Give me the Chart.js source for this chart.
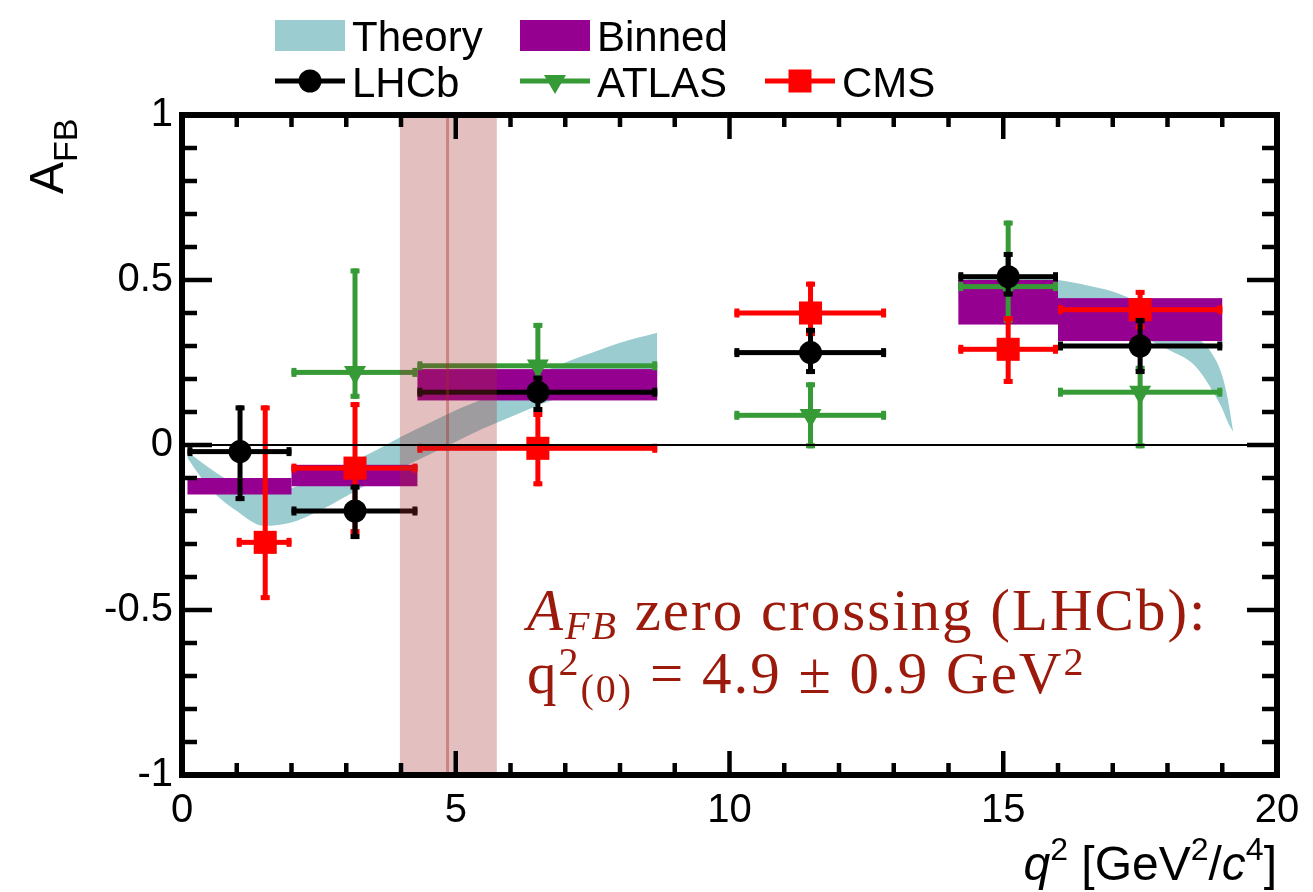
<!DOCTYPE html>
<html>
<head>
<meta charset="utf-8">
<script src="https://cdn.jsdelivr.net/npm/chart.js@4.4.1/dist/chart.umd.min.js"></script>
<style>
  html, body { margin: 0; padding: 0; background: #fff; }
</style>
</head>
<body>
<canvas id="afb" width="1313" height="892"></canvas>
<script>
// SM theory band, low q2 region
const theoryLowX  = [0.1, 0.5, 1.0, 1.5, 2.0, 2.5, 3.0, 3.5, 4.0, 4.5, 5.0, 5.5, 6.0, 6.5, 7.0, 7.5, 8.0, 8.68];
const theoryLowUp = [-0.02, -0.07, -0.12, -0.14, -0.13, -0.10, -0.06, -0.02, 0.025, 0.065, 0.105, 0.14, 0.18, 0.215, 0.25, 0.28, 0.31, 0.34];
const theoryLowDn = [-0.04, -0.13, -0.20, -0.245, -0.235, -0.20, -0.155, -0.11, -0.07, -0.03, 0.01, 0.05, 0.085, 0.12, 0.15, 0.18, 0.205, 0.23];
// SM theory band, high q2 region
const theoryHighX  = [14.18, 15.0, 16.0, 16.5, 17.0, 17.5, 18.0, 18.5, 18.8, 19.0, 19.1, 19.2];
const theoryHighUp = [0.50, 0.51, 0.50, 0.485, 0.465, 0.43, 0.385, 0.33, 0.28, 0.21, 0.14, 0.04];
const theoryHighDn = [0.44, 0.44, 0.42, 0.40, 0.37, 0.33, 0.29, 0.24, 0.17, 0.11, 0.07, 0.04];

// binned SM prediction
const binLo   = [0.1, 2.0, 4.3, 14.18, 16.0];
const binHi   = [2.0, 4.3, 8.68, 16.0, 19.0];
const binYmin = [-0.15, -0.125, 0.135, 0.365, 0.315];
const binYmax = [-0.10, -0.06, 0.23, 0.50, 0.445];

// LHCb
const lhcbX   = [1.06, 3.16, 6.5, 11.48, 15.09, 17.5];
const lhcbXlo = [0.1, 2.0, 4.3, 10.09, 14.18, 16.0];
const lhcbXhi = [2.0, 4.3, 8.68, 12.86, 16.0, 19.0];
const lhcbY   = [-0.02, -0.20, 0.16, 0.28, 0.51, 0.30];
const lhcbYlo = [-0.17, -0.285, 0.10, 0.215, 0.45, 0.215];
const lhcbYhi = [0.12, -0.12, 0.21, 0.355, 0.585, 0.385];

// ATLAS
const atlasX   = [3.16, 6.5, 11.48, 15.09, 17.5];
const atlasXlo = [2.0, 4.3, 10.09, 14.18, 16.0];
const atlasXhi = [4.3, 8.68, 12.86, 16.0, 19.0];
const atlasY   = [0.22, 0.24, 0.09, 0.48, 0.16];
const atlasYlo = [0.14, 0.13, -0.01, 0.37, -0.01];
const atlasYhi = [0.535, 0.37, 0.19, 0.68, 0.24];

// CMS
const cmsX   = [1.52, 3.16, 6.5, 11.48, 15.09, 17.5];
const cmsXlo = [1.0, 2.0, 4.3, 10.09, 14.18, 16.0];
const cmsXhi = [2.0, 4.3, 8.68, 12.86, 16.0, 19.0];
const cmsY   = [-0.295, -0.07, -0.01, 0.40, 0.29, 0.41];
const cmsYlo = [-0.47, -0.27, -0.125, 0.33, 0.185, 0.35];
const cmsYhi = [0.12, 0.13, 0.10, 0.495, 0.39, 0.47];

// zero crossing (LHCb) band
const zeroCross = 4.85;
const zeroBand = [3.98, 5.75];

const SANS = '"Liberation Sans", Arial, sans-serif';
const SERIF = '"Liberation Serif", "Times New Roman", serif';
const TEAL = '#9bcdd0';
const PURPLE = '#960091';
const GREEN = '#369a36';
const RED = '#ff0000';
const NOTE = '#9b1a0b';

const pts = (xs, ys) => xs.map((x, i) => ({ x: x, y: ys[i] }));

function bandSet(xs, ys, fill) {
    return {
        data: pts(xs, ys),
        showLine: true,
        borderColor: 'rgba(0,0,0,0)',
        backgroundColor: TEAL,
        pointRadius: 0,
        cubicInterpolationMode: 'monotone',
        fill: fill,
        order: 10,
    };
}

// draw x and y error bars with small end caps
function drawErrors(chart, xs, ys, xlo, xhi, ylo, yhi, color) {
    const ctx = chart.ctx;
    const sx = chart.scales.x, sy = chart.scales.y;
    ctx.save();
    ctx.fillStyle = color;
    for (let i = 0; i < xs.length; i++) {
        const px = sx.getPixelForValue(xs[i]);
        const py = sy.getPixelForValue(ys[i]);
        const x0 = sx.getPixelForValue(xlo[i]), x1 = sx.getPixelForValue(xhi[i]);
        const y0 = sy.getPixelForValue(ylo[i]), y1 = sy.getPixelForValue(yhi[i]);
        ctx.fillRect(x0, py - 2.5, x1 - x0, 5);
        ctx.fillRect(px - 2.5, y1, 5, y0 - y1);
        // caps
        ctx.fillRect(x0, py - 4.5, 5, 9);
        ctx.fillRect(x1 - 5, py - 4.5, 5, 9);
        ctx.fillRect(px - 4.5, y1, 9, 5);
        ctx.fillRect(px - 4.5, y0 - 5, 9, 5);
    }
    ctx.restore();
}

function drawRuns(ctx, x, y, runs) {
    for (const r of runs) {
        ctx.font = r.f;
        ctx.fillText(r.t, x, y + (r.dy || 0));
        x += ctx.measureText(r.t).width;
    }
    return x;
}

function runsWidth(ctx, runs) {
    let w = 0;
    for (const r of runs) { ctx.font = r.f; w += ctx.measureText(r.t).width; }
    return w;
}

const plotPlugin = {
    id: 'plotExtras',
    beforeDatasetDraw(chart, args) {
        const ctx = chart.ctx;
        const sx = chart.scales.x, sy = chart.scales.y;
        if (args.index === 4) {
            // binned prediction boxes
            ctx.save();
            ctx.fillStyle = PURPLE;
            for (let i = 0; i < binLo.length; i++) {
                const x0 = sx.getPixelForValue(binLo[i]), x1 = sx.getPixelForValue(binHi[i]);
                const y0 = sy.getPixelForValue(binYmin[i]), y1 = sy.getPixelForValue(binYmax[i]);
                ctx.fillRect(x0, y1, x1 - x0, y0 - y1);
            }
            ctx.restore();
            drawErrors(chart, atlasX, atlasY, atlasXlo, atlasXhi, atlasYlo, atlasYhi, GREEN);
        } else if (args.index === 5) {
            drawErrors(chart, cmsX, cmsY, cmsXlo, cmsXhi, cmsYlo, cmsYhi, RED);
        } else if (args.index === 6) {
            drawErrors(chart, lhcbX, lhcbY, lhcbXlo, lhcbXhi, lhcbYlo, lhcbYhi, '#000');
        }
    },
    afterDatasetsDraw(chart) {
        const ctx = chart.ctx;
        const ca = chart.chartArea;
        const sx = chart.scales.x, sy = chart.scales.y;
        ctx.save();
        // zero crossing band
        const b0 = sx.getPixelForValue(zeroBand[0]), b1 = sx.getPixelForValue(zeroBand[1]);
        ctx.fillStyle = 'rgba(165,42,42,0.3)';
        ctx.fillRect(b0, ca.top, b1 - b0, ca.bottom - ca.top);
        const bc = sx.getPixelForValue(zeroCross);
        ctx.strokeStyle = 'rgba(165,42,42,0.4)';
        ctx.lineWidth = 3;
        ctx.beginPath(); ctx.moveTo(bc, ca.top); ctx.lineTo(bc, ca.bottom); ctx.stroke();
        // zero line
        const y0 = sy.getPixelForValue(0);
        ctx.strokeStyle = '#000';
        ctx.lineWidth = 2;
        ctx.beginPath(); ctx.moveTo(ca.left, y0); ctx.lineTo(ca.right, y0); ctx.stroke();
        // frame
        ctx.lineWidth = 6;
        ctx.strokeRect(ca.left, ca.top, ca.right - ca.left, ca.bottom - ca.top);
        // ticks
        ctx.lineWidth = 4.5;
        ctx.beginPath();
        for (let k = -9; k <= 9; k++) {
            const py = sy.getPixelForValue(k / 10);
            const len = (k % 5 === 0) ? 30 : 15;
            ctx.moveTo(ca.left, py); ctx.lineTo(ca.left + len, py);
            ctx.moveTo(ca.right, py); ctx.lineTo(ca.right - len, py);
        }
        for (let k = 1; k <= 19; k++) {
            const px = sx.getPixelForValue(k);
            const len = (k % 5 === 0) ? 24 : 12;
            ctx.moveTo(px, ca.bottom); ctx.lineTo(px, ca.bottom - len);
            ctx.moveTo(px, ca.top); ctx.lineTo(px, ca.top + len);
        }
        ctx.stroke();
        ctx.restore();
    },
    afterDraw(chart) {
        const ctx = chart.ctx;
        const ca = chart.chartArea;
        ctx.save();
        ctx.fillStyle = '#000';
        ctx.textBaseline = 'alphabetic';

        // legend
        const lf = '42px ' + SANS;
        ctx.fillStyle = TEAL; ctx.fillRect(275, 20, 70, 31);
        ctx.fillStyle = PURPLE; ctx.fillRect(520, 20, 70, 31);
        const ly = 81;
        ctx.fillStyle = '#000'; ctx.fillRect(275, ly - 2.5, 70, 5);
        ctx.beginPath(); ctx.arc(310, ly, 11.5, 0, Math.PI * 2); ctx.fill();
        ctx.fillStyle = GREEN; ctx.fillRect(520, ly - 2.5, 70, 5);
        ctx.beginPath(); ctx.moveTo(544, ly - 6); ctx.lineTo(566, ly - 6); ctx.lineTo(555, ly + 13); ctx.closePath(); ctx.fill();
        ctx.fillStyle = RED; ctx.fillRect(765, ly - 2.5, 70, 5);
        ctx.fillRect(788.5, ly - 11.5, 23, 23);
        ctx.fillStyle = '#000';
        ctx.font = lf;
        ctx.fillText('Theory', 352, 51);
        ctx.fillText('Binned', 597, 51);
        ctx.fillText('LHCb', 352, 97);
        ctx.fillText('ATLAS', 597, 97);
        ctx.fillText('CMS', 842, 97);

        // x axis title
        const xt = [
            { t: 'q', f: 'italic 48px ' + SANS },
            { t: '2', f: '32px ' + SANS, dy: -20 },
            { t: ' [GeV', f: '48px ' + SANS },
            { t: '2', f: '32px ' + SANS, dy: -20 },
            { t: '/', f: '48px ' + SANS },
            { t: 'c', f: 'italic 48px ' + SANS },
            { t: '4', f: '32px ' + SANS, dy: -20 },
            { t: ']', f: '48px ' + SANS },
        ];
        drawRuns(ctx, ca.right - runsWidth(ctx, xt), 880, xt);

        // y axis title
        ctx.save();
        ctx.translate(63, 194);
        ctx.rotate(-Math.PI / 2);
        drawRuns(ctx, 0, 0, [
            { t: 'A', f: '48px ' + SANS },
            { t: 'FB', f: '34px ' + SANS, dy: 14 },
        ]);
        ctx.restore();

        // zero crossing note
        ctx.fillStyle = NOTE;
        ctx.letterSpacing = '2px';
        drawRuns(ctx, 527, 630, [
            { t: 'A', f: 'italic 59px ' + SERIF },
            { t: 'FB', f: 'italic 40px ' + SERIF, dy: 9 },
            { t: ' zero crossing (LHCb):', f: '59px ' + SERIF },
        ]);
        drawRuns(ctx, 527, 693, [
            { t: 'q', f: '59px ' + SERIF },
            { t: '2', f: '40px ' + SERIF, dy: -18 },
            { t: '(0)', f: '40px ' + SERIF, dy: 9 },
            { t: ' = 4.9 \u00b1 0.9 GeV', f: '59px ' + SERIF },
            { t: '2', f: '40px ' + SERIF, dy: -18 },
        ]);
        ctx.restore();
    },
};

new Chart(document.getElementById('afb'), {
    type: 'scatter',
    data: {
        datasets: [
            bandSet(theoryLowX, theoryLowDn, false),
            bandSet(theoryLowX, theoryLowUp, '-1'),
            bandSet(theoryHighX, theoryHighDn, false),
            bandSet(theoryHighX, theoryHighUp, '-1'),
            {
                label: 'ATLAS',
                data: pts(atlasX, atlasY),
                pointStyle: 'triangle',
                rotation: 180,
                pointRadius: 12.7,
                backgroundColor: GREEN,
                borderWidth: 0,
                order: 3,
            },
            {
                label: 'CMS',
                data: pts(cmsX, cmsY),
                pointStyle: 'rect',
                pointRadius: 16.3,
                backgroundColor: RED,
                borderWidth: 0,
                order: 2,
            },
            {
                label: 'LHCb',
                data: pts(lhcbX, lhcbY),
                pointStyle: 'circle',
                pointRadius: 11.5,
                backgroundColor: '#000',
                borderWidth: 0,
                order: 1,
            },
        ],
    },
    options: {
        responsive: false,
        animation: false,
        layout: { padding: { top: 115, right: 36, left: 0, bottom: 0 } },
        plugins: { legend: { display: false }, tooltip: { enabled: false } },
        scales: {
            x: {
                type: 'linear', min: 0, max: 20,
                grid: { display: false, drawTicks: false },
                border: { display: false },
                ticks: { stepSize: 5, color: '#000', padding: 12, maxRotation: 0, font: { family: SANS, size: 40 } },
                afterFit(s) { s.height = 117; },
            },
            y: {
                type: 'linear', min: -1, max: 1,
                grid: { display: false, drawTicks: false },
                border: { display: false },
                ticks: {
                    stepSize: 0.5, color: '#000', padding: 9, font: { family: SANS, size: 40 },
                    callback: (v) => String(v),
                },
                afterFit(s) { s.width = 182; },
            },
        },
    },
    plugins: [plotPlugin],
});
</script>
</body>
</html>
